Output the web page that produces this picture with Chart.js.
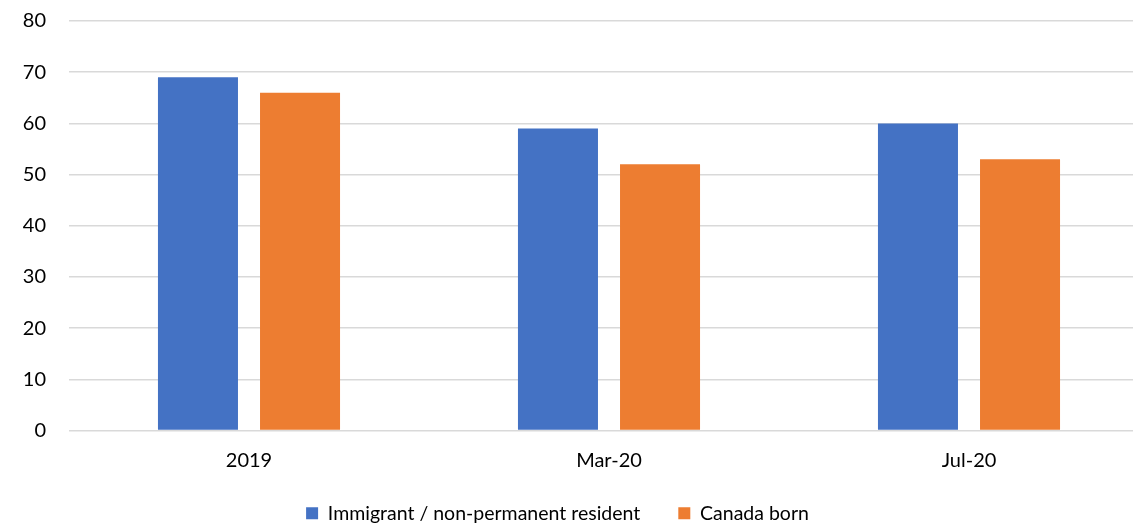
<!DOCTYPE html>
<html>
<head>
<meta charset="utf-8">
<script src="https://cdn.jsdelivr.net/npm/chart.js@4.4.1/dist/chart.umd.min.js"></script>
<style>
  html, body { margin: 0; padding: 0; overflow: hidden; background: #fff; }
  #wrap { width: 1149px; height: 524px; position: relative; }
</style>
</head>
<body>
<div id="wrap"><canvas id="grafico"></canvas></div>
<script>
const categorias = ['2019', 'Mar-20', 'Jul-20'];
const imigrantes = [69, 59, 60];
const nascidosCanada = [66, 52, 53];
const ticksY = [0, 10, 20, 30, 40, 50, 60, 70, 80];

const fonte = { family: 'Lato, "Open Sans", sans-serif', size: 20 };
const fonteLegenda = { family: 'Lato, "Open Sans", sans-serif', size: 19.5 };

// legenda: ocupa menos altura no layout e fica um pouco à esquerda
const ajusteLegenda = {
    id: 'ajusteLegenda',
    beforeLayout(chart) {
        const leg = chart.legend;
        if (!leg || leg._fitOriginal) return;
        leg._fitOriginal = leg.fit;
        leg.fit = function () {
            this._fitOriginal();
            this.height -= 16;
        };
    },
    afterLayout(chart) {
        const leg = chart.legend;
        if (!leg) return;
        leg.left -= 17; leg.right -= 17;
        leg.top -= 7;
        leg.bottom = chart.height;
    }
};

function carregarGrafico() {
    const ctx = document.getElementById('grafico').getContext('2d');

    new Chart(ctx, {
        type: 'bar',
        data: {
            labels: categorias,
            datasets: [{
                label: 'Immigrant / non-permanent resident',
                data: imigrantes,
                backgroundColor: '#4472C4'
            }, {
                label: 'Canada born',
                data: nascidosCanada,
                backgroundColor: '#ED7D31'
            }]
        },
        options: {
            responsive: true,
            maintainAspectRatio: false,
            animation: false,
            layout: { padding: { top: 21, left: 0, right: 0, bottom: 0 } },
            datasets: {
                bar: { categoryPercentage: 0.567, barPercentage: 0.784 }
            },
            plugins: {
                tooltip: { enabled: false },
                legend: {
                    position: 'bottom',
                    labels: {
                        color: '#000',
                        font: fonteLegenda,
                        boxWidth: 12,
                        boxHeight: 12,
                        padding: 38
                    }
                }
            },
            scales: {
                x: {
                    grid: { display: false, drawTicks: false },
                    border: { display: false },
                    ticks: { color: '#000', font: fonte, padding: 18 },
                    afterFit(scale) { scale.height = 42; }
                },
                y: {
                    min: 0,
                    max: 80,
                    afterBuildTicks(scale) {
                        scale.ticks = ticksY.map(v => ({ value: v }));
                    },
                    grid: { color: '#d9d9d9', lineWidth: 1.5, drawTicks: false },
                    border: { display: false },
                    ticks: { color: '#000', font: fonte, padding: 23 },
                    afterFit(scale) {
                        scale.width = 69;
                        scale.paddingTop = 0;
                        scale.paddingBottom = 0;
                    }
                }
            }
        },
        plugins: [ajusteLegenda]
    });
}

document.addEventListener('DOMContentLoaded', carregarGrafico);
</script>
</body>
</html>
